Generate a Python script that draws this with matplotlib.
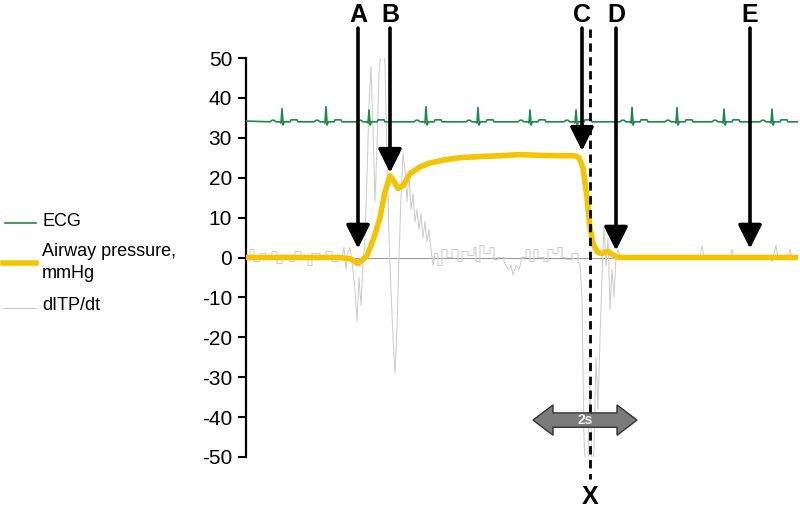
import matplotlib
matplotlib.use("Agg")
import matplotlib.pyplot as plt
from matplotlib.lines import Line2D
from matplotlib.patches import Polygon
import numpy as np

plt.rcParams['font.family'] = ['Liberation Sans', 'DejaVu Sans']
plt.rcParams['axes.unicode_minus'] = False

FS = 52.0  # samples per second

# Airway pressure (sample index, mmHg)
aw_samples = [0, 94, 104, 112, 117, 121, 128, 134, 139, 144, 148, 152, 157, 164, 174, 184,
              199, 214, 234, 254, 274, 294, 314, 329, 333, 337, 341, 344, 347, 351, 355,
              359, 362, 365, 369, 374, 552]
aw_values = [0, 0, -0.3, -1.5, -0.5, 0.5, 5, 10, 16.5, 20.5, 19, 17.3, 18, 21, 22.7, 23.7,
             24.5, 25, 25.3, 25.5, 25.8, 25.6, 25.5, 25.5, 25, 22.5, 15, 7.5, 3.5, 1.5, 1,
             1.3, 1.5, 1, 0.3, 0, 0]

# dITP/dt trace (sample index, value)
ditp_samples = [0, 4, 4, 8, 8, 14, 14, 20, 20, 26, 26, 31, 31, 36, 36, 44, 44, 49, 49, 55, 55,
                62, 62, 66, 66, 74, 74, 80, 80, 86, 86, 92, 92, 96,
                98, 100, 102, 104, 106, 109, 111, 113, 115, 117, 119, 121, 123, 125, 127, 129,
                131, 133, 135, 137, 139, 141, 143, 145, 147, 149, 151, 153, 155, 157, 159, 161,
                163, 165, 167, 169, 171, 173, 175, 177, 179, 181, 183, 185, 187, 189,
                192, 192, 196, 196, 201, 201, 206, 206, 212, 212, 216, 216, 222, 222, 228, 228,
                230, 230, 234, 234, 238, 238, 244, 244, 248, 248, 252, 252, 258,
                258, 262, 265, 267, 270, 273, 276,
                280, 280, 284, 284, 288, 288, 292, 292, 298, 298, 302, 302, 307, 307, 312, 312,
                316, 316, 320, 320, 326, 326, 332, 332,
                334, 336, 338, 340, 342, 344, 346, 348, 350, 352, 354, 356, 358, 360, 362, 364,
                366, 368, 370, 372,
                374, 394, 394, 414, 414, 454, 456, 458, 484, 486, 488, 524, 526, 530, 532, 542,
                544, 546, 552]
ditp_values = [0.5, 0.5, 2, 2, -1, -1, 1, 1, -0.5, -0.5, 1.5, 1.5, -1.5, -1.5, 0.5, 0.5, -1, -1,
               1.5, 1.5, 0, 0, -2, -2, 1, 1, -0.5, -0.5, 1.5, 1.5, -1, -1, 0.5, 0.5,
               2.5, -3, 1.5, 2.5, -1, -8, -16, -5, -12, -2, 5, 20, 38, 48, 32, 14,
               28, 46, 52, 57, 48, 25, 5, -8, -20, -29, -18, 0, 15, 26, 22, 14,
               21, 12, 16, 9, 12, 7, 11, 5, 9, 4, 7, 2, -2, 1,
               1, -2, -2, 2, 2, 0, 0, 2, 2, -1, -1, 1.5, 1.5, 0.5, 0.5, 2.5,
               2.5, -1, -1, 3, 3, 1, 1, 2.5, 2.5, -0.5, -0.5, 0, 0,
               -1, -3, -2, -4.5, -2, -3, 0,
               0, 2, 2, -1, -1, 2, 2, 0, 0, -1, -1, 2, 2, 1, 1, 2.5,
               2.5, 0, 0, -0.5, -0.5, 1, 1, -1,
               -2, -10, -45, -55, -50, -30, -55, -48, -25, -38, -20, -5, 8, -2, 5, -13,
               -3, -10, 0, 2,
               0, 0, 0.5, 0.5, 0, 0, 3, 0, 0, 2, 0, 0, -1, 3, 0, 0,
               2, 0, 0]

# ECG: R-peak sample positions and R amplitudes, baseline level
ecg_beats = [36, 80, 123, 180, 232, 284, 330, 386, 431, 478, 526]
ecg_r_amp = [3.3, 3.8, 3.0, 3.8, 3.6, 3.0, 3.0, 3.6, 3.6, 3.2, 3.2]
ecg_baseline = 34.0

# Event markers
event_labels = ['A', 'B', 'C', 'D', 'E']
event_samples = [112, 144, 336, 370, 504]
event_tips = [2.25, 21.25, 26.75, 1.75, 2.25]
x_sample = 344

# ---- build ECG trace from beat template ----
tmpl_dx = [-12, -10, -8, -6, -2, -1, 0, 1.2, 2.2, 3, 8, 9, 15, 16, 20]
tmpl_dy = [0, 0.4, 0.4, 0, 0, -0.3, 1.0, -0.8, 0, 0, 0, 0.5, 0.5, 0, 0]
ex, ey = [0.0], [ecg_baseline + 0.2]
for b, a in zip(ecg_beats, ecg_r_amp):
    for dx, dy in zip(tmpl_dx, tmpl_dy):
        ex.append(b + dx)
        ey.append(ecg_baseline + (a if dx == 0 else dy))
ex.append(552.0)
ey.append(ecg_baseline)
ex = np.array(ex) / FS
ey = np.array(ey)
order = np.argsort(ex, kind='stable')
ex, ey = ex[order], ey[order]

t_aw = np.array(aw_samples) / FS
t_di = np.array(ditp_samples) / FS

fig = plt.figure(figsize=(8, 5.16), dpi=100)
ax = fig.add_axes([246 / 800, 1 - 457 / 516, (798 - 246) / 800, (457 - 58) / 516])
ax.set_xlim(0, 552 / FS)
ax.set_ylim(-50, 50)

ax.axhline(0, color='#9a9a9a', lw=0.8, zorder=1)
ax.plot(t_di, ditp_values, color='#cdcdcd', lw=0.75, zorder=2)
ax.plot(ex, ey, color='#1e8a4a', lw=1.2, zorder=3)
ax.plot(t_aw, aw_values, color='#f5c400', lw=4, solid_capstyle='round', zorder=4)

# dashed line X
xs = x_sample / FS
ax.plot([xs, xs], [57.25, -55.5], color='black', lw=2, linestyle=(0, (3, 2)),
        clip_on=False, zorder=6)
ax.text(xs, -60, 'X', ha='center', va='center', fontsize=18, fontweight='bold')

for lab, s, tip in zip(event_labels, event_samples, event_tips):
    x = s / FS
    ax.annotate('', xy=(x, tip), xytext=(x, 57.5),
                arrowprops=dict(arrowstyle='-|>', lw=2.6, color='black', mutation_scale=36,
                                shrinkA=0, shrinkB=0),
                annotation_clip=False, zorder=7)
    ax.text(x, 60.9, lab, ha='center', va='center', fontsize=18, fontweight='bold')

# 2 s double arrow
cx, cy = 339 / FS, -40.75
half = 1.0
hl = 20 / FS
bh, hh = 1.8, 3.8
poly = [(cx - half, cy), (cx - half + hl, cy + hh), (cx - half + hl, cy + bh),
        (cx + half - hl, cy + bh), (cx + half - hl, cy + hh), (cx + half, cy),
        (cx + half - hl, cy - hh), (cx + half - hl, cy - bh), (cx - half + hl, cy - bh),
        (cx - half + hl, cy - hh)]
ax.add_patch(Polygon(poly, closed=True, fc='#7b7b7b', ec='#333333', lw=1, zorder=8))
ax.text(cx, cy, '2s', ha='center', va='center', fontsize=10, fontweight='bold',
        color='#f0f0f0', zorder=9)

# axes styling
for side in ['top', 'right', 'bottom']:
    ax.spines[side].set_visible(False)
ax.spines['left'].set_linewidth(1.6)
ax.set_xticks([])
ax.set_yticks(np.arange(-50, 51, 10))
ax.tick_params(axis='y', direction='out', length=6, width=1.5, labelsize=15, pad=4)

# legend on left
def fy(py):
    return 1 - py / 516

fig.add_artist(Line2D([5 / 800, 36 / 800], [fy(223), fy(223)], color='#1e8a4a', lw=1.2))
fig.text(42 / 800, fy(222), 'ECG', fontsize=13, va='center')
fig.add_artist(Line2D([3 / 800, 36 / 800], [fy(263), fy(263)], color='#f5c400', lw=4))
fig.text(42 / 800, fy(252), 'Airway pressure,', fontsize=13, va='center')
fig.text(42 / 800, fy(273), 'mmHg', fontsize=13, va='center')
fig.add_artist(Line2D([3 / 800, 36 / 800], [fy(308), fy(308)], color='#cccccc', lw=0.8))
fig.text(42 / 800, fy(306), 'dITP/dt', fontsize=13, va='center')

fig.savefig('out.png', dpi=100)
